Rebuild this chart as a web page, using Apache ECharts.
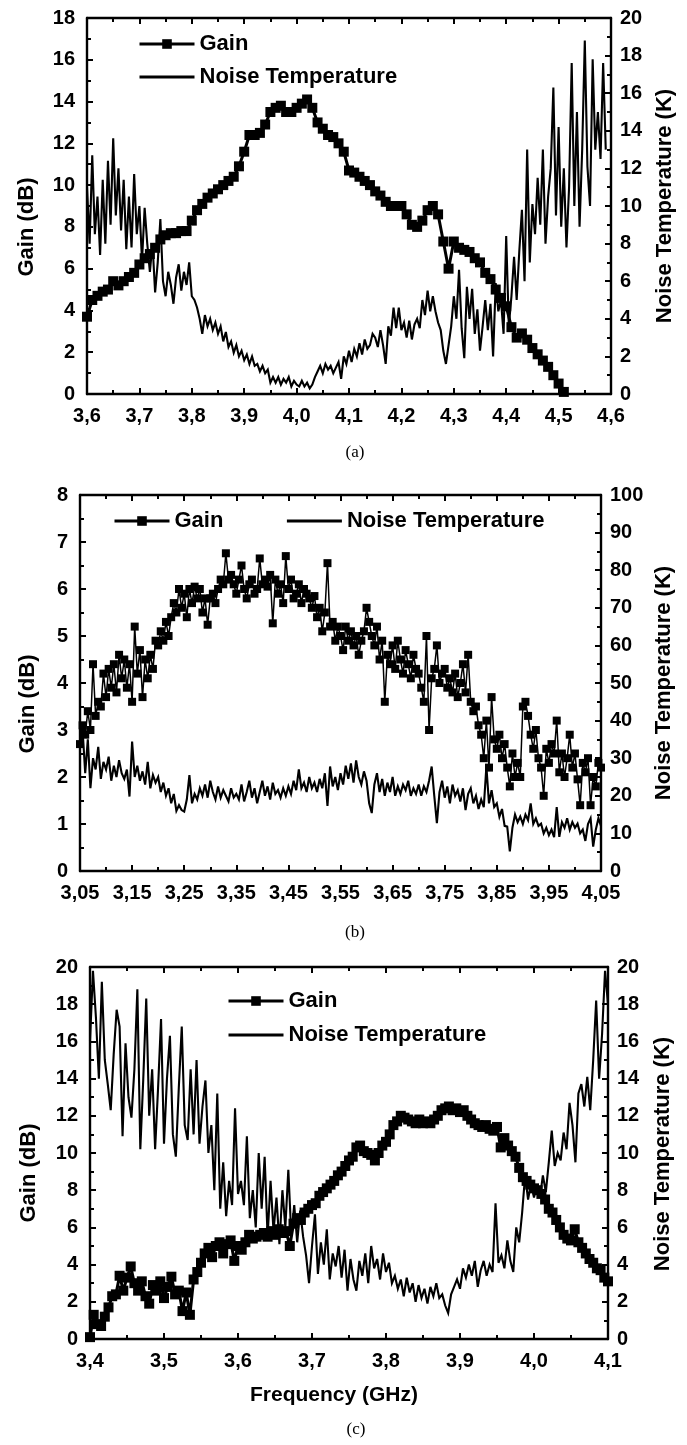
<!DOCTYPE html>
<html>
<head>
<meta charset="utf-8">
<script src="https://cdn.jsdelivr.net/npm/echarts/dist/echarts.min.js"></script>
<style>
  html, body { margin: 0; padding: 0; background: #fff; }
  #chart { width: 687px; height: 1445px; }
</style>
</head>
<body>
<div id="chart"></div>
<script>
// ---- Panel (a): 3.6 - 4.6 GHz ----
const sweepGainA = [3.60, 0.01];
const gainA = [
  3.7, 4.5, 4.7, 4.9, 5.0, 5.4, 5.2, 5.4, 5.6, 5.8,
  6.2, 6.5, 6.7, 7.0, 7.4, 7.6, 7.7, 7.7, 7.8, 7.8,
  8.3, 8.8, 9.1, 9.4, 9.6, 9.8, 10.0, 10.2, 10.4, 10.9,
  11.6, 12.4, 12.4, 12.5, 12.9, 13.5, 13.7, 13.8, 13.5, 13.5,
  13.7, 13.9, 14.1, 13.7, 13.0, 12.7, 12.4, 12.3, 12.0, 11.6,
  10.7, 10.6, 10.4, 10.2, 10.0, 9.7, 9.5, 9.2, 9.0, 9.0,
  9.0, 8.6, 8.1, 8.0, 8.3, 8.8, 9.0, 8.6, 7.3, 6.0,
  7.3, 7.0, 6.9, 6.8, 6.5, 6.3, 5.8, 5.5, 5.0, 4.6,
  4.2, 3.2, 2.7, 2.9, 2.6, 2.2, 1.9, 1.6, 1.3, 0.9,
  0.5, 0.1
];
const sweepNoiseA = [3.600, 0.005];
const noiseA = [
  11.0, 8.0, 12.7, 8.5, 10.5, 7.4, 11.4, 8.0, 12.4, 9.0,
  13.6, 9.5, 12.0, 8.7, 11.4, 7.7, 10.5, 7.8, 11.7, 8.5,
  10.0, 7.1, 9.9, 8.0, 6.5, 8.0, 5.4, 7.0, 9.3, 6.0,
  5.2, 6.5, 5.8, 4.8, 6.2, 6.9, 5.5, 6.5, 5.8, 7.0,
  5.2, 5.0, 4.6, 4.0, 3.2, 4.2, 3.6, 4.0, 3.4, 3.8,
  3.2, 3.6, 2.8, 3.3, 2.5, 2.8, 2.2, 2.6, 2.0, 2.3,
  1.8, 2.1, 1.6, 2.0, 1.5, 1.6, 1.2, 1.5, 1.1, 1.3,
  0.6, 0.9, 0.6, 0.9, 0.5, 0.8, 0.6, 0.9, 0.4, 0.7,
  0.5, 0.4, 0.7, 0.4, 0.6, 0.3, 0.5, 0.9, 1.2, 1.5,
  1.1, 1.6, 1.3, 1.5, 1.1, 1.4, 1.7, 0.8, 2.0, 1.6,
  2.3, 1.7, 2.4, 2.0, 2.7, 2.1, 2.9, 2.4, 2.6, 3.2,
  3.0, 2.5, 3.4, 2.6, 1.6, 3.6, 3.1, 4.6, 3.5, 4.6,
  3.4, 3.8, 3.0, 3.9, 2.9, 3.7, 4.0, 3.5, 5.0, 4.2,
  5.5, 4.4, 5.2, 4.4, 3.8, 3.4, 2.3, 1.6, 2.6, 3.6,
  5.2, 4.0, 6.6, 3.5, 1.9, 5.7, 4.0, 5.6, 3.2, 4.5,
  2.3, 3.6, 5.0, 3.4, 4.8, 2.0, 5.9, 4.4, 5.0, 3.2,
  8.4, 3.6, 5.2, 7.3, 5.0, 7.6, 9.8, 6.0, 13.0, 7.0,
  10.1, 8.5, 11.5, 9.0, 13.0, 8.0, 10.5, 12.0, 16.3, 9.5,
  14.2, 8.9, 12.0, 7.8, 11.0, 17.6, 10.0, 15.0, 8.9, 13.0,
  18.8, 12.1, 10.0, 17.8, 13.0, 15.0, 12.5, 17.6, 13.0
];

// ---- Panel (b): 3.05 - 4.05 GHz ----
const sweepGainB = [3.050, 0.005];
const gainB = [
  2.7, 3.1, 2.9, 3.4, 3.0, 4.4, 3.3, 3.6, 3.5, 4.2,
  3.7, 4.3, 3.9, 4.4, 3.8, 4.6, 4.1, 4.5, 3.9, 4.4,
  3.6, 5.2, 4.2, 4.7, 3.7, 4.5, 4.1, 4.6, 4.3, 4.9,
  4.8, 5.1, 4.9, 5.3, 5.0, 5.4, 5.7, 5.5, 6.0, 5.6,
  5.9, 5.4, 6.0, 5.7, 6.05, 5.8, 6.0, 5.5, 5.8, 5.24,
  5.8, 5.9, 5.7, 6.0, 6.2, 6.1, 6.76, 6.2, 6.3, 6.1,
  5.9, 6.2, 6.5, 6.0, 5.8, 6.1, 6.2, 5.9, 6.0, 6.65,
  6.1, 6.2, 6.05, 6.3, 5.27, 6.2, 5.9, 6.1, 5.7, 6.7,
  6.0, 6.2, 5.8, 5.9, 6.1, 5.7, 6.0, 5.9, 5.8, 5.6,
  5.85, 5.4, 5.6, 5.1, 5.5, 6.55, 5.2, 5.3, 4.9, 5.2,
  5.0, 4.7, 5.2, 4.9, 5.1, 4.8, 5.0, 4.6, 4.9, 5.1,
  5.6, 5.3, 5.0, 4.8, 5.2, 4.5, 4.9, 3.6, 4.6, 4.4,
  4.8, 4.3, 4.9, 4.5, 4.2, 4.7, 4.4, 4.1, 4.6, 4.3,
  4.2, 3.9, 3.6, 5.0, 3.0, 4.1, 4.3, 4.8, 4.0, 4.2,
  4.3, 3.9, 4.1, 3.8, 4.2, 3.7, 4.0, 4.4, 3.8, 4.6,
  3.6, 3.4, 3.5, 3.1, 2.9, 2.4, 3.2, 2.2, 3.7, 2.8,
  2.6, 2.9, 2.4, 2.7, 2.2, 1.8, 2.5, 2.0, 2.3, 2.0,
  3.5, 3.6, 3.3, 2.9, 2.6, 3.0, 2.4, 2.2, 1.6, 2.6,
  2.3, 2.7, 2.5, 3.2, 2.1, 2.5, 2.0, 2.4, 2.9, 2.2,
  2.5, 1.95, 1.4, 2.3, 2.1, 2.4, 1.4, 2.0, 1.8, 2.3,
  2.2
];
const sweepNoiseB = [3.050, 0.005];
const noiseB = [
  33.0, 37.5, 26.0, 35.0, 22.0, 30.0, 27.0, 33.0, 24.5, 29.0,
  27.0, 30.4, 24.0, 28.0, 25.0, 29.5, 26.0, 24.5, 27.0, 19.8,
  34.4, 25.0, 28.0, 24.0, 26.5, 23.0, 29.0, 22.0, 25.5, 23.5,
  25.0, 21.0, 23.5, 20.0, 22.0, 18.0, 20.5, 16.0, 17.5, 16.2,
  15.8, 19.0, 25.5, 18.0, 20.5, 19.0, 22.0, 20.0, 23.0, 19.5,
  24.0, 21.0, 19.0, 22.5, 19.5, 21.5, 20.0, 18.5, 22.0, 19.5,
  20.5, 19.0, 23.0, 18.5, 21.0, 24.0, 19.5, 22.0, 18.0, 21.0,
  24.0, 20.0, 22.5, 19.0, 23.5, 20.5, 21.5, 19.5, 22.0, 20.0,
  22.5, 20.5, 24.0, 21.5, 27.0, 22.0, 23.5, 21.0, 25.0, 22.0,
  23.5, 21.0, 24.5, 22.0, 26.0, 17.3, 27.8, 22.5, 25.0, 21.5,
  26.0, 23.0, 28.0, 24.5, 28.6, 23.5, 29.4, 25.0, 23.0, 26.5,
  24.0, 18.0, 15.4, 23.0, 26.0, 21.0, 24.5, 20.0, 23.5, 21.0,
  25.0, 20.0, 22.5, 20.5, 23.0, 21.5, 24.0, 20.0, 22.0, 20.5,
  23.0, 20.0, 22.5, 21.0, 24.0, 27.8, 20.0, 12.7, 21.0, 24.0,
  19.5, 22.5, 18.0, 23.0, 20.0, 21.5, 18.5, 22.0, 16.2, 20.5,
  22.0, 18.0, 20.0, 16.5, 19.0, 17.0, 27.8, 18.0, 21.5, 17.0,
  18.0, 14.4, 16.5, 12.0, 11.8, 5.2, 11.5, 15.0, 13.0, 14.5,
  12.5, 15.0, 13.5, 18.0, 12.5, 14.0, 12.0, 12.6, 10.0, 11.5,
  9.5, 11.0, 9.0, 17.0, 9.1, 13.0, 11.5, 14.0, 11.0, 13.0,
  11.5, 12.6, 10.0, 11.0, 8.0, 12.5, 14.0, 6.5, 11.0, 14.0,
  12.0
];

// ---- Panel (c): 3.4 - 4.1 GHz ----
const sweepGainC = [3.400, 0.005];
const gainC = [
  0.1, 1.3, 0.8, 0.7, 1.2, 1.7, 2.3, 2.4, 3.4, 2.6,
  3.3, 3.9, 3.0, 2.6, 3.1, 2.3, 1.9, 2.9, 2.6, 3.1,
  2.2, 2.8, 3.35, 2.4, 2.6, 1.5, 2.5, 1.3, 3.2, 3.6,
  4.1, 4.6, 4.9, 4.4, 5.0, 5.2, 4.6, 5.1, 5.3, 4.2,
  5.0, 4.8, 5.2, 5.6, 5.4, 5.5, 5.6, 5.7, 5.5, 5.8,
  5.6, 5.9, 5.7, 5.8, 5.0, 6.2, 6.5, 6.4, 6.8, 7.0,
  7.2, 7.3, 7.7, 7.9, 8.1, 8.3, 8.5, 8.8, 9.0, 9.3,
  9.6, 9.8, 10.3, 10.4, 10.1, 10.0, 9.9, 9.6, 10.0, 10.4,
  10.6, 11.0, 11.5, 11.7, 12.0, 11.9, 11.8, 11.7, 11.6, 11.8,
  11.6, 11.7, 11.6, 11.8, 12.0, 12.3, 12.4, 12.5, 12.3, 12.4,
  12.2, 12.3, 12.0, 11.8, 11.6, 11.5, 11.4, 11.5, 11.3, 11.2,
  11.4, 10.3, 10.8, 10.4, 10.1, 9.8, 9.2, 8.7, 8.5, 8.3,
  8.1, 8.0, 7.8, 7.5, 7.0, 6.8, 6.4, 6.0, 5.6, 5.4,
  5.3, 5.9, 5.2, 4.9, 4.6, 4.3, 4.1, 3.8, 3.7, 3.3,
  3.1
];
const sweepNoiseC = [3.400, 0.004];
const noiseC = [
  16.0, 19.8, 17.3, 14.0, 19.2, 15.0, 13.7, 12.3, 15.3, 17.7,
  16.8, 10.9, 15.9, 13.0, 11.9, 14.5, 18.8, 10.2, 14.0, 18.3,
  12.0, 14.5, 10.2, 13.5, 17.2, 10.5, 14.0, 16.3, 11.0, 9.8,
  13.5, 16.8, 11.5, 10.7, 14.5, 11.0, 15.0, 10.5, 12.5, 13.9,
  10.0, 11.5, 8.0, 13.2, 7.0, 9.5, 6.6, 8.5, 7.2, 12.4,
  7.8, 8.5, 7.2, 10.9, 6.5, 8.0, 6.0, 10.0, 7.0, 9.8,
  5.5, 8.5, 5.8, 7.6, 5.1, 8.0, 6.0, 9.1, 5.6, 7.2,
  5.2, 6.9, 5.5, 4.5, 3.0, 5.0, 6.7, 3.5, 5.2, 4.0,
  5.9, 3.2, 4.6, 3.9, 5.0, 3.3, 4.8, 2.6, 4.3, 3.2,
  2.6, 4.2, 3.4, 4.6, 3.0, 5.0, 3.8, 4.3, 3.2, 4.6,
  3.6, 4.1, 3.0, 3.4, 2.7, 3.2, 2.3, 3.3, 2.5, 3.0,
  2.0, 2.9, 2.2, 2.7, 1.9, 2.8, 2.3, 3.0, 2.2, 2.4,
  1.8, 1.4, 2.4, 2.8, 3.2, 2.7, 3.8, 3.3, 4.0, 3.4,
  4.2, 2.8, 3.7, 4.2, 3.4, 4.0, 3.6, 7.3, 4.1, 4.5,
  3.8, 5.3, 4.2, 3.6, 6.0, 5.2, 6.8, 8.8, 7.5, 8.4,
  7.6, 8.3, 7.6, 8.8, 7.9, 9.5, 11.2, 9.3, 10.0, 9.6,
  11.1, 10.2, 12.7, 11.5, 9.5, 13.2, 13.7, 12.5, 14.1, 12.3,
  15.0, 18.2, 14.0, 16.4, 19.8, 18.0
];

// Axis labels / titles
const legendNames = ['Gain', 'Noise Temperature'];
const gainTitle = 'Gain (dB)';
const noiseTitle = 'Noise Temperature (K)';
const freqTitle = 'Frequency (GHz)';
const panelCaptions = ['(a)', '(b)', '(c)'];

const FONT = '"Liberation Sans", Arial, Helvetica, sans-serif';
const SERIF = '"Liberation Serif", "Times New Roman", Times, serif';
const BLACK = '#000';

// (frequency, value) pairs; `shift` moves panel (b) onto an axis starting at 0
function pairs(sweep, values, shift) {
  return values.map(function (v, i) {
    return [Math.round((sweep[0] + i * sweep[1] - shift) * 100000) / 100000, v];
  });
}
function comma(v, d) { return (Math.round(v * 1000) / 1000).toFixed(d).replace('.', ','); }

const tickStyle = { color: BLACK, width: 2 };
function xPair(gi, min, max, interval, fmt) {
  const common = {
    gridIndex: gi, type: 'value', min: min, max: max, interval: interval,
    axisLine: { show: true, onZero: false, lineStyle: { color: BLACK, width: 2.4 } },
    axisTick: { show: true, inside: true, length: 6, lineStyle: tickStyle },
    minorTick: { show: true, splitNumber: 2, length: 4, lineStyle: tickStyle },
    splitLine: { show: false }, minorSplitLine: { show: false }
  };
  return [
    Object.assign({}, common, {
      position: 'bottom',
      axisLabel: { show: true, margin: 12, color: BLACK, fontFamily: FONT, fontWeight: 'bold',
                   fontSize: 20, formatter: fmt, showMinLabel: true, showMaxLabel: true }
    }),
    Object.assign({}, common, { position: 'top', axisLabel: { show: false } })
  ];
}
function yAxis(gi, side, min, max, interval) {
  return {
    gridIndex: gi, type: 'value', position: side, min: min, max: max, interval: interval,
    axisLine: { show: true, onZero: false, lineStyle: { color: BLACK, width: 2.4 } },
    axisTick: { show: true, inside: true, length: 6, lineStyle: tickStyle },
    minorTick: { show: true, splitNumber: 2, length: 4, lineStyle: tickStyle },
    splitLine: { show: false }, minorSplitLine: { show: false },
    axisLabel: { show: true, margin: side === 'left' ? 12 : 9, color: BLACK, fontFamily: FONT,
                 fontWeight: 'bold', fontSize: 20, showMinLabel: true, showMaxLabel: true }
  };
}

function gainSeries(xi, yi, data, size, lw) {
  return {
    type: 'line', name: legendNames[0], xAxisIndex: xi, yAxisIndex: yi, data: data,
    symbol: 'rect', symbolSize: size, showSymbol: true, showAllSymbol: true,
    lineStyle: { color: BLACK, width: lw }, itemStyle: { color: BLACK },
    emphasis: { disabled: true }, animation: false, z: 3
  };
}
function noiseSeries(xi, yi, data) {
  return {
    type: 'line', name: legendNames[1], xAxisIndex: xi, yAxisIndex: yi, data: data,
    symbol: 'none', showSymbol: false,
    lineStyle: { color: BLACK, width: 2.1, join: 'miter', miterLimit: 4 }, itemStyle: { color: BLACK },
    emphasis: { disabled: true }, animation: false, z: 2
  };
}

function legendBox(opts) {
  return Object.assign({
    padding: 0, itemWidth: 55, itemHeight: 12, selectedMode: false,
    lineStyle: { width: 3 },
    textStyle: { color: BLACK, fontFamily: FONT, fontWeight: 'bold', fontSize: 22 },
    data: [
      { name: legendNames[0] },
      { name: legendNames[1], itemStyle: { opacity: 0 } }
    ]
  }, opts);
}

function vTitle(x, y, text) {
  return {
    type: 'text', x: x, y: y, rotation: Math.PI / 2, silent: true,
    style: { text: text, font: 'bold 22px ' + FONT, fill: BLACK,
             align: 'center', verticalAlign: 'middle', textAlign: 'center', textVerticalAlign: 'middle' }
  };
}
function hText(x, y, text, font) {
  return {
    type: 'text', x: x, y: y, silent: true,
    style: { text: text, font: font, fill: BLACK,
             align: 'center', verticalAlign: 'middle', textAlign: 'center', textVerticalAlign: 'middle' }
  };
}

const fmt1 = function (v) { return comma(v, 1); };
const fmtB = function (v) { return comma(v + 3.05, 2); };

const xAxes = [].concat(
  xPair(0, 3.6, 4.6, 0.1, fmt1),
  xPair(1, 0, 1.0, 0.1, fmtB),
  xPair(2, 3.4, 4.1, 0.1, fmt1)
);
const yAxes = [
  yAxis(0, 'left', 0, 18, 2), yAxis(0, 'right', 0, 20, 2),
  yAxis(1, 'left', 0, 8, 1), yAxis(1, 'right', 0, 100, 10),
  yAxis(2, 'left', 0, 20, 2), yAxis(2, 'right', 0, 20, 2)
];

const option = {
  animation: false,
  backgroundColor: '#fff',
  textStyle: { fontFamily: FONT },
  grid: [
    { left: 87, top: 18, width: 524, height: 376, outerBoundsMode: 'none' },
    { left: 80, top: 495, width: 521, height: 376, outerBoundsMode: 'none' },
    { left: 90, top: 967, width: 518, height: 372, outerBoundsMode: 'none' }
  ],
  xAxis: xAxes,
  yAxis: yAxes,
  legend: [
    legendBox({ orient: 'vertical', left: 138, top: 33, itemGap: 11 }),
    legendBox({ orient: 'horizontal', left: 113, top: 510, itemGap: 62 }),
    legendBox({ orient: 'vertical', left: 227, top: 990, itemGap: 12 })
  ],
  series: [
    noiseSeries(0, 1, pairs(sweepNoiseA, noiseA, 0)),
    gainSeries(0, 0, pairs(sweepGainA, gainA, 0), 10, 3),
    noiseSeries(2, 3, pairs(sweepNoiseB, noiseB, 3.05)),
    gainSeries(2, 2, pairs(sweepGainB, gainB, 3.05), 8, 1.5),
    noiseSeries(4, 5, pairs(sweepNoiseC, noiseC, 0)),
    gainSeries(4, 4, pairs(sweepGainC, gainC, 0), 10, 3)
  ],
  graphic: [
    vTitle(27, 227, gainTitle),
    vTitle(665, 206, noiseTitle),
    vTitle(28, 704, gainTitle),
    vTitle(664, 683, noiseTitle),
    vTitle(29, 1173, gainTitle),
    vTitle(663, 1154, noiseTitle),
    hText(334, 1395, freqTitle, 'bold 21px ' + FONT),
    hText(355, 453, panelCaptions[0], '17px ' + SERIF),
    hText(355, 933, panelCaptions[1], '17px ' + SERIF),
    hText(356, 1430, panelCaptions[2], '17px ' + SERIF)
  ]
};

const chart = echarts.init(document.getElementById('chart'), null, { renderer: 'canvas' });
chart.setOption(option);
</script>
</body>
</html>
